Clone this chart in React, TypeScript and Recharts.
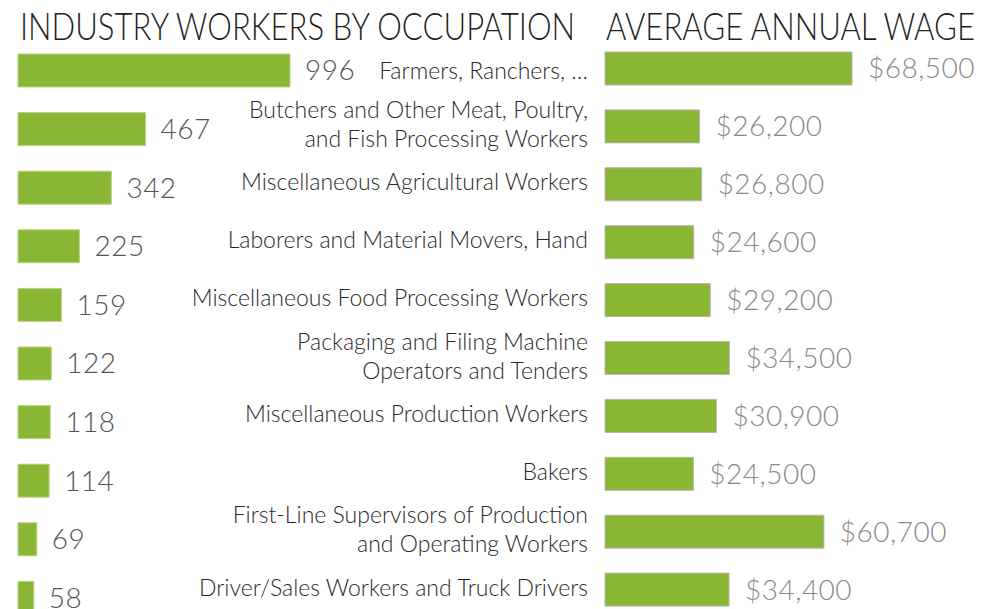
import React from 'react';
import { BarChart, Bar, XAxis, YAxis, LabelList } from 'recharts';

// Top occupations in the industry, with head count and average annual wage
const occupations = [
  'Farmers, Ranchers, …',
  'Butchers and Other Meat, Poultry,\nand Fish Processing Workers',
  'Miscellaneous Agricultural Workers',
  'Laborers and Material Movers, Hand',
  'Miscellaneous Food Processing Workers',
  'Packaging and Filing Machine\nOperators and Tenders',
  'Miscellaneous Production Workers',
  'Bakers',
  'First-Line Supervisors of Production\nand Operating Workers',
  'Driver/Sales Workers and Truck Drivers',
];
const workers = [996, 467, 342, 225, 159, 122, 118, 114, 69, 58];
const wages = [68500, 26200, 26800, 24600, 29200, 34500, 30900, 24500, 60700, 34400];

const data = occupations.map((occupation, i) => ({
  occupation,
  workers: workers[i],
  wage: wages[i],
}));

const GREEN = '#8ab733';
const FONT = 'Lato, "Open Sans", sans-serif';
const LABEL_RIGHT = 588;

const formatWage = (v: any) => `$${Number(v).toLocaleString('en-US')}`;

// occupation names sit right-aligned between the two bar groups
const renderOccupation = (props: any) => {
  const { y, height, value, index } = props;
  const lines = String(value).split('\n');
  const lineHeight = 29;
  const shift = index === 0 ? 2 : -2;
  const cy = Number(y) + Number(height) / 2 + shift;
  const start = cy - ((lines.length - 1) * lineHeight) / 2;
  return (
    <text
      key={`occ-${index}`}
      x={LABEL_RIGHT}
      textAnchor="end"
      fontSize={23}
      fontFamily={FONT}
      fontWeight={300}
      fill="#2a2a2a"
    >
      {lines.map((line, i) => (
        <tspan key={i} x={LABEL_RIGHT} y={start + i * lineHeight} dy="0.35em">
          {line}
        </tspan>
      ))}
    </text>
  );
};

const valueLabel = {
  fontSize: 28,
  fontFamily: FONT,
  fontWeight: 300,
  letterSpacing: 0.5,
};

export default function App() {
  return (
    <div
      style={{
        position: 'absolute',
        left: 0,
        top: 0,
        width: 993,
        height: 609,
        overflow: 'hidden',
        background: '#fff',
      }}
    >
      <svg width={993} height={50} style={{ position: 'absolute', left: 0, top: 0 }}>
        <text
          x={20}
          y={40}
          fontFamily={FONT}
          fontWeight={300}
          fontSize={37}
          fill="#1f1f1f"
          textLength={555}
          lengthAdjust="spacingAndGlyphs"
        >
          INDUSTRY WORKERS BY OCCUPATION
        </text>
        <text
          x={606}
          y={40}
          fontFamily={FONT}
          fontWeight={300}
          fontSize={37}
          fill="#1f1f1f"
          textLength={369}
          lengthAdjust="spacingAndGlyphs"
        >
          AVERAGE ANNUAL WAGE
        </text>
      </svg>

      <div style={{ position: 'absolute', left: 0, top: 0 }}>
        <BarChart
          width={600}
          height={627}
          data={data}
          layout="vertical"
          margin={{ top: 41, right: 310, bottom: 0, left: 18 }}
        >
          <XAxis type="number" hide domain={[0, Math.max(...workers)]} />
          <YAxis type="category" dataKey="occupation" hide />
          <Bar
            dataKey="workers"
            fill={GREEN}
            stroke="#b9d38a"
            strokeWidth={1}
            barSize={33}
            isAnimationActive={false}
          >
            <LabelList dataKey="workers" position="right" offset={15} fill="#555" {...valueLabel} />
          </Bar>
        </BarChart>
      </div>

      <div style={{ position: 'absolute', left: 0, top: 0 }}>
        <BarChart
          width={993}
          height={619}
          data={data}
          layout="vertical"
          margin={{ top: 40, right: 141, bottom: 0, left: 605 }}
        >
          <XAxis type="number" hide domain={[0, Math.max(...wages)]} />
          <YAxis type="category" dataKey="occupation" hide />
          <Bar
            dataKey="wage"
            fill={GREEN}
            stroke="#b4b4b4"
            strokeWidth={1}
            barSize={33}
            isAnimationActive={false}
          >
            <LabelList
              dataKey="wage"
              position="right"
              offset={16}
              formatter={formatWage}
              fill="#8a8a8a"
              {...valueLabel}
            />
            <LabelList dataKey="occupation" content={renderOccupation} />
          </Bar>
        </BarChart>
      </div>
    </div>
  );
}
